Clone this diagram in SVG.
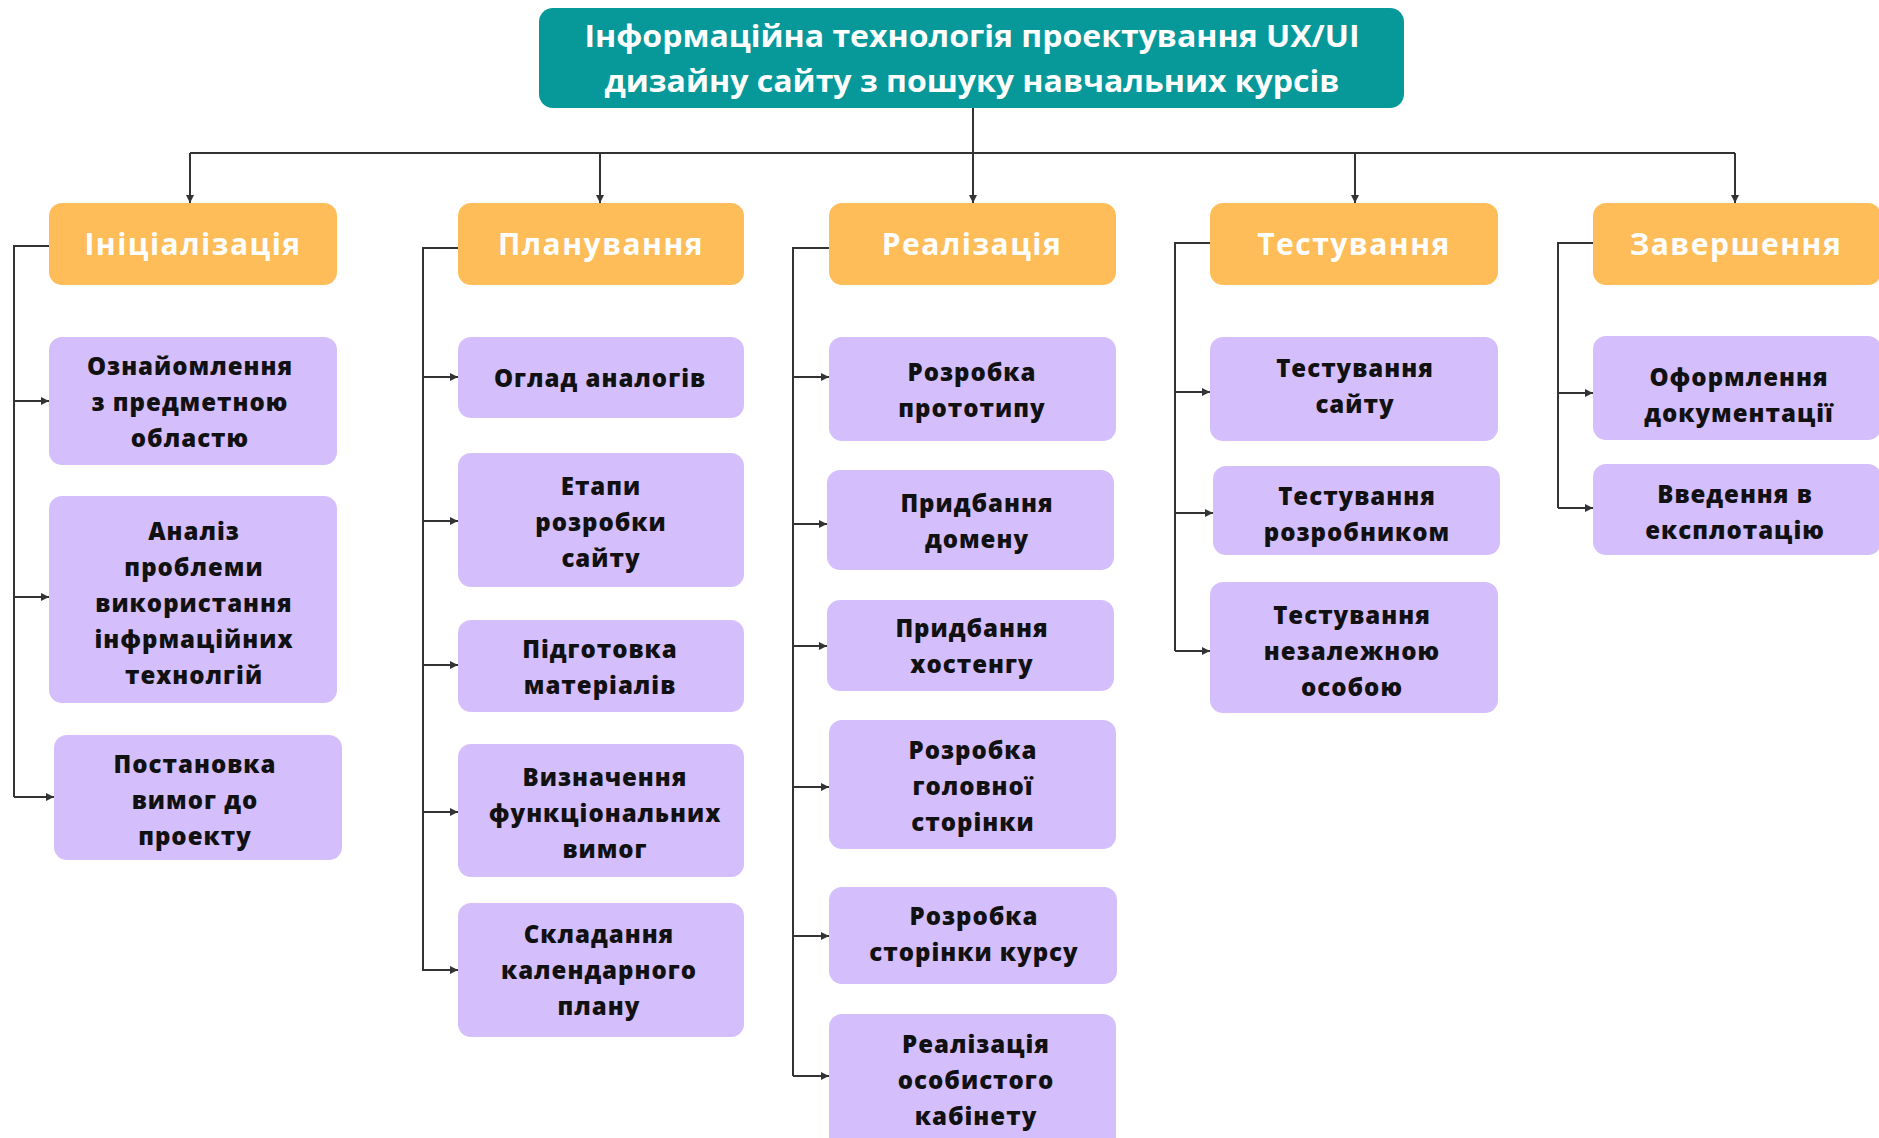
<svg xmlns="http://www.w3.org/2000/svg" width="1879" height="1138" viewBox="0 0 1879 1138">
  <defs>
    <marker id="arrow" viewBox="0 0 10 10" refX="10" refY="5" markerWidth="4" markerHeight="4" orient="auto" markerUnits="strokeWidth">
      <path d="M0,0 L10,5 L0,10 z" fill="#333"/>
    </marker>
    <style>
      .root rect { fill: #07989a; }
      .phase rect { fill: #ffbd59; }
      .task rect { fill: #d4bffc; }
      .root text { font-family: "Open Sans", "Liberation Sans", sans-serif; font-weight: 700; font-size: 31px; fill: #ffffff; text-anchor: middle; }
      .phase text { font-family: "Open Sans", "Liberation Sans", sans-serif; font-weight: 700; font-size: 30px; letter-spacing: 1.5px; fill: #ffffff; text-anchor: middle; }
      .task text { font-family: "Open Sans", "Liberation Sans", sans-serif; font-weight: 800; font-size: 24px; letter-spacing: 1px; fill: #111111; text-anchor: middle; }
      .links path { fill: none; stroke: #333; stroke-width: 2; }
      .links .arr { marker-end: url(#arrow); }
    </style>
  </defs>

  <rect width="1879" height="1138" fill="#ffffff"/>

  <!-- connectors -->
  <g class="links">
    <!-- root to phases -->
    <path d="M973,108 V153"/>
    <path d="M190,153 H1735"/>
    <path class="arr" d="M190,153 V203"/>
    <path class="arr" d="M600,153 V203"/>
    <path class="arr" d="M973,153 V203"/>
    <path class="arr" d="M1355,153 V203"/>
    <path class="arr" d="M1735,153 V203"/>

    <!-- Ініціалізація branch -->
    <path d="M49,246 H14 V797"/>
    <path class="arr" d="M14,401 H49"/>
    <path class="arr" d="M14,597 H49"/>
    <path class="arr" d="M14,797 H54"/>

    <!-- Планування branch -->
    <path d="M458,248 H423 V971"/>
    <path class="arr" d="M423,377 H458"/>
    <path class="arr" d="M423,521 H458"/>
    <path class="arr" d="M423,665 H458"/>
    <path class="arr" d="M423,812 H458"/>
    <path class="arr" d="M423,970 H458"/>

    <!-- Реалізація branch -->
    <path d="M829,248 H793 V1076"/>
    <path class="arr" d="M793,377 H829"/>
    <path class="arr" d="M793,524 H827"/>
    <path class="arr" d="M793,646 H827"/>
    <path class="arr" d="M793,787 H829"/>
    <path class="arr" d="M793,936 H829"/>
    <path class="arr" d="M793,1076 H829"/>

    <!-- Тестування branch -->
    <path d="M1210,243 H1175 V651"/>
    <path class="arr" d="M1175,392 H1210"/>
    <path class="arr" d="M1175,513 H1213"/>
    <path class="arr" d="M1175,651 H1210"/>

    <!-- Завершення branch -->
    <path d="M1593,243 H1558 V508"/>
    <path class="arr" d="M1558,393 H1593"/>
    <path class="arr" d="M1558,508 H1593"/>
  </g>

  <!-- root -->
  <g id="root" class="root">
    <rect x="539" y="8" width="865" height="100" rx="14"/>
    <text x="972" y="47" textLength="775" lengthAdjust="spacingAndGlyphs">Інформаційна технологія проектування UX/UI</text>
    <text x="972" y="92" textLength="735" lengthAdjust="spacingAndGlyphs">дизайну сайту з пошуку навчальних курсів</text>
  </g>

  <!-- phases -->
  <g id="phase-init" class="phase">
    <rect x="49" y="203" width="288" height="82" rx="13"/>
    <text x="193" y="255">Ініціалізація</text>
  </g>
  <g id="phase-plan" class="phase">
    <rect x="458" y="203" width="286" height="82" rx="13"/>
    <text x="601" y="255">Планування</text>
  </g>
  <g id="phase-impl" class="phase">
    <rect x="829" y="203" width="287" height="82" rx="13"/>
    <text x="972" y="255">Реалізація</text>
  </g>
  <g id="phase-test" class="phase">
    <rect x="1210" y="203" width="288" height="82" rx="13"/>
    <text x="1354" y="255">Тестування</text>
  </g>
  <g id="phase-done" class="phase">
    <rect x="1593" y="203" width="288" height="82" rx="13"/>
    <text x="1736" y="255">Завершення</text>
  </g>

  <!-- Ініціалізація tasks -->
  <g id="task-domain" class="task">
    <rect x="49" y="337" width="288" height="128" rx="13"/>
    <text x="190" y="375">Ознайомлення<tspan x="190" y="411">з предметною</tspan><tspan x="190" y="447">областю</tspan></text>
  </g>
  <g id="task-analysis" class="task">
    <rect x="49" y="496" width="288" height="207" rx="13"/>
    <text x="194" y="540">Аналіз<tspan x="194" y="576">проблеми</tspan><tspan x="194" y="612">використання</tspan><tspan x="194" y="648">інфрмаційних</tspan><tspan x="194" y="684">технолгій</tspan></text>
  </g>
  <g id="task-requirements" class="task">
    <rect x="54" y="735" width="288" height="125" rx="13"/>
    <text x="195" y="773">Постановка<tspan x="195" y="809">вимог до</tspan><tspan x="195" y="845">проекту</tspan></text>
  </g>

  <!-- Планування tasks -->
  <g id="task-analogs" class="task">
    <rect x="458" y="337" width="286" height="81" rx="13"/>
    <text x="600" y="387">Оглад аналогів</text>
  </g>
  <g id="task-stages" class="task">
    <rect x="458" y="453" width="286" height="134" rx="13"/>
    <text x="601" y="495">Етапи<tspan x="601" y="531">розробки</tspan><tspan x="601" y="567">сайту</tspan></text>
  </g>
  <g id="task-materials" class="task">
    <rect x="458" y="620" width="286" height="92" rx="13"/>
    <text x="600" y="658">Підготовка<tspan x="600" y="694">матеріалів</tspan></text>
  </g>
  <g id="task-functional" class="task">
    <rect x="458" y="744" width="286" height="133" rx="13"/>
    <text x="605" y="786">Визначення<tspan x="605" y="822">функціональних</tspan><tspan x="605" y="858">вимог</tspan></text>
  </g>
  <g id="task-schedule" class="task">
    <rect x="458" y="903" width="286" height="134" rx="13"/>
    <text x="599" y="943">Складання<tspan x="599" y="979">календарного</tspan><tspan x="599" y="1015">плану</tspan></text>
  </g>

  <!-- Реалізація tasks -->
  <g id="task-prototype" class="task">
    <rect x="829" y="337" width="287" height="104" rx="13"/>
    <text x="972" y="381">Розробка<tspan x="972" y="417">прототипу</tspan></text>
  </g>
  <g id="task-domain-buy" class="task">
    <rect x="827" y="470" width="287" height="100" rx="13"/>
    <text x="977" y="512">Придбання<tspan x="977" y="548">домену</tspan></text>
  </g>
  <g id="task-hosting" class="task">
    <rect x="827" y="600" width="287" height="91" rx="13"/>
    <text x="972" y="637">Придбання<tspan x="972" y="673">хостенгу</tspan></text>
  </g>
  <g id="task-home" class="task">
    <rect x="829" y="720" width="287" height="129" rx="13"/>
    <text x="973" y="759">Розробка<tspan x="973" y="795">головної</tspan><tspan x="973" y="831">сторінки</tspan></text>
  </g>
  <g id="task-course" class="task">
    <rect x="829" y="887" width="288" height="97" rx="13"/>
    <text x="974" y="925">Розробка<tspan x="974" y="961">сторінки курсу</tspan></text>
  </g>
  <g id="task-cabinet" class="task">
    <rect x="829" y="1014" width="287" height="140" rx="13"/>
    <text x="976" y="1053">Реалізація<tspan x="976" y="1089">особистого</tspan><tspan x="976" y="1125">кабінету</tspan></text>
  </g>

  <!-- Тестування tasks -->
  <g id="task-site-test" class="task">
    <rect x="1210" y="337" width="288" height="104" rx="13"/>
    <text x="1355" y="377">Тестування<tspan x="1355" y="413">сайту</tspan></text>
  </g>
  <g id="task-dev-test" class="task">
    <rect x="1213" y="466" width="287" height="89" rx="13"/>
    <text x="1357" y="505">Тестування<tspan x="1357" y="541">розробником</tspan></text>
  </g>
  <g id="task-indep-test" class="task">
    <rect x="1210" y="582" width="288" height="131" rx="13"/>
    <text x="1352" y="624">Тестування<tspan x="1352" y="660">незалежною</tspan><tspan x="1352" y="696">особою</tspan></text>
  </g>

  <!-- Завершення tasks -->
  <g id="task-docs" class="task">
    <rect x="1593" y="336" width="288" height="104" rx="13"/>
    <text x="1739" y="386">Оформлення<tspan x="1739" y="422">документації</tspan></text>
  </g>
  <g id="task-launch" class="task">
    <rect x="1593" y="464" width="288" height="91" rx="13"/>
    <text x="1735" y="503">Введення в<tspan x="1735" y="539">експлотацію</tspan></text>
  </g>
</svg>
